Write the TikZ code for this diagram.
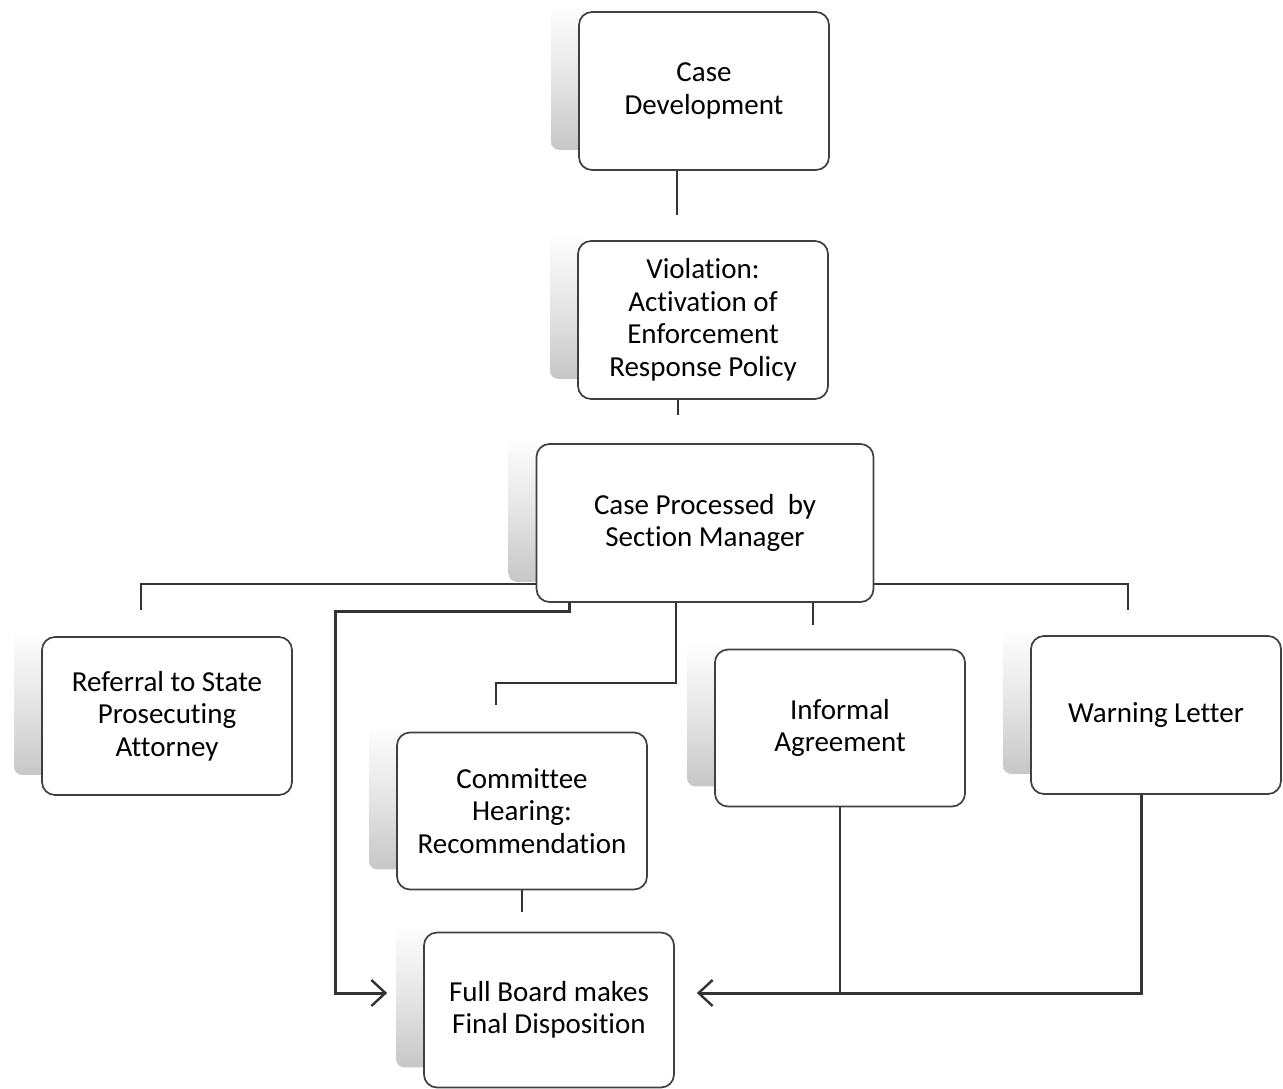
\documentclass[tikz,border=0pt]{standalone}
\usepackage{fontspec}
\setmainfont{Carlito}[Ligatures=NoCommon]
\usetikzlibrary{arrows.meta,backgrounds}

\tikzset{
  stepbox/.style={draw=black!75, line width=1.7pt, rounded corners=13pt, fill=white,
    minimum width=250pt, minimum height=158pt, align=center,
    font=\fontsize{29}{32.5}\selectfont, text=black},
  link/.style={draw=black!80, line width=1.8pt},
  mainlink/.style={draw=black!80, line width=3pt, line join=miter},
  tip/.style={-{Straight Barb[length=14pt,width=26pt,line width=2.4pt]}},
  backstrip/.style={top color=white, bottom color=black!22, middle color=black!10,
    rounded corners=8pt}
}

\begin{document}
\begin{tikzpicture}[x=1pt,y=-1pt]
  \useasboundingbox (0,0) rectangle (1283,1088);

  % steps
  \node[stepbox] (cd) at (704,91)  {Case\\Development};
  \node[stepbox] (vi) at (703,320) {Violation:\\Activation of\\Enforcement\\Response Policy};
  \node[stepbox, minimum width=337pt] (cp) at (705,523) {Case Processed\ \ by\\Section Manager};
  \node[stepbox] (rf) at (167,716) {Referral to State\\Prosecuting\\Attorney};
  \node[stepbox, minimum height=157pt] (ch) at (522,811) {Committee\\Hearing:\\Recommendation};
  \node[stepbox, minimum height=157pt] (ia) at (840,728) {Informal\\Agreement};
  \node[stepbox] (wl) at (1156,715) {Warning Letter};
  \node[stepbox, minimum height=155pt] (fb) at (549,1010) {Full Board makes\\Final Disposition};

  % grey strips behind the boxes
  \begin{scope}[on background layer]
    \foreach \n in {cd,vi,cp,rf,ch,ia,wl,fb}
      \shade[backstrip] ([xshift=-27pt,yshift=8pt]\n.north west)
        rectangle ([xshift=8pt,yshift=21pt]\n.south west);
  \end{scope}

  % loose ends
  \coordinate (cdend) at (677,215);
  \coordinate (viend) at (678,415);
  \coordinate (rfend) at (141,610);
  \coordinate (wlend) at (1128,610);
  \coordinate (iaend) at (813,625);
  \coordinate (chknee) at (676,683);
  \coordinate (chend) at (496,705);
  \coordinate (chout) at (522,912);
  \coordinate (fbknee) at (569,611);
  \coordinate (fbcorner) at (335,993);
  \coordinate (wlx) at (1141,993);

  \draw[link] (cd.south -| cdend) -- (cdend);
  \draw[link] (vi.south -| viend) -- (viend);
  \draw[link] ([yshift=19pt]cp.south west) -| (rfend);
  \draw[link] ([yshift=19pt]cp.south east) -| (wlend);
  \draw[link] (cp.south -| iaend) -- (iaend);
  \draw[link] (cp.south -| chknee) -- (chknee) -| (chend);
  \draw[link] (ch.south) -- (chout);
  \draw[mainlink, tip, shorten >=36pt] (cp.south -| fbknee) -- (fbknee) -| (fbcorner)
    -- ([yshift=17pt]fb.west);
  \draw[link] (ia.south) -- (ia.south |- wlx);
  \draw[mainlink, tip, shorten >=22pt] (wl.south -| wlx) -- (wlx) -- ([yshift=17pt]fb.east);
\end{tikzpicture}
\end{document}
